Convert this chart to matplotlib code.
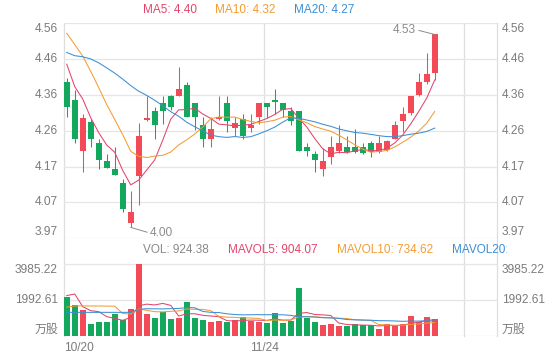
import numpy as np
import pandas as pd
import matplotlib
matplotlib.use('Agg')
import matplotlib.pyplot as plt
from matplotlib.lines import Line2D
from matplotlib.transforms import Bbox, TransformedBbox

plt.rcParams['font.family'] = ['Liberation Sans', 'Noto Sans CJK SC', 'DejaVu Sans']

# daily candles, 10/20 .. 12/23
open_ = [4.400, 4.350, 4.211, 4.289, 4.231, 4.183, 4.161, 4.123, 4.013, 4.142,
         4.296, 4.320, 4.341, 4.361, 4.361, 4.391, 4.341, 4.280, 4.242, 4.298,
         4.341, 4.272, 4.299, 4.272, 4.303, 4.341, 4.350, 4.341, 4.319, 4.320,
         4.222, 4.202, 4.161, 4.193, 4.211, 4.220, 4.222, 4.220, 4.231, 4.208,
         4.213, 4.242, 4.291, 4.314, 4.363, 4.400, 4.424]
high = [4.410, 4.378, 4.311, 4.299, 4.242, 4.202, 4.222, 4.132, 4.100, 4.288,
        4.361, 4.330, 4.361, 4.363, 4.440, 4.400, 4.341, 4.304, 4.304, 4.361,
        4.361, 4.304, 4.311, 4.311, 4.341, 4.341, 4.380, 4.343, 4.330, 4.320,
        4.233, 4.211, 4.217, 4.251, 4.282, 4.250, 4.270, 4.231, 4.238, 4.250,
        4.240, 4.291, 4.330, 4.361, 4.423, 4.478, 4.530]
low = [4.302, 4.233, 4.153, 4.222, 4.161, 4.162, 4.143, 4.043, 4.000, 4.062,
       4.291, 4.242, 4.284, 4.323, 4.361, 4.302, 4.268, 4.222, 4.222, 4.295,
       4.263, 4.251, 4.242, 4.263, 4.284, 4.300, 4.311, 4.304, 4.282, 4.211,
       4.195, 4.153, 4.142, 4.174, 4.204, 4.204, 4.204, 4.202, 4.193, 4.204,
       4.211, 4.242, 4.263, 4.309, 4.361, 4.394, 4.405]
close = [4.332, 4.242, 4.300, 4.242, 4.185, 4.162, 4.143, 4.051, 4.043, 4.251,
         4.300, 4.282, 4.321, 4.332, 4.380, 4.302, 4.302, 4.242, 4.271, 4.302,
         4.291, 4.288, 4.252, 4.282, 4.341, 4.332, 4.344, 4.323, 4.291, 4.211,
         4.211, 4.184, 4.183, 4.222, 4.231, 4.206, 4.208, 4.204, 4.206, 4.231,
         4.238, 4.281, 4.312, 4.361, 4.400, 4.422, 4.530]
volume = [2141, 1713, 1434, 652, 763, 763, 1229, 875, 1490, 3985.22,
          1229, 1005, 1303, 950, 987, 1881, 1005, 875, 745, 819,
          782, 857, 1061, 838, 775, 726, 1285, 726, 838, 2644,
          968, 745, 614, 670, 540, 559, 633, 570, 606, 364,
          680, 606, 650, 1120, 760, 1066, 924.38]

# 19 sessions before the window (only feed the moving averages, read back from the MA lines)
prior_close = [4.42, 4.36, 4.36, 4.40, 4.44, 4.43, 4.38, 4.40, 4.56, 4.53,
               4.55, 4.62, 4.66, 4.63, 4.63, 4.55, 4.47, 4.50, 4.39]
prior_volume = [1700, 1430, 660, 760, 760, 1230, 880, 1490, 600, 560,
                1100, 1400, 700, 760, 840, 1250, 4970, 1770, 1050]

ma_last = ['4.40', '4.32', '4.27']
vol_last = ['924.38', '904.07', '734.62']
price_ticks = ['3.97', '4.07', '4.17', '4.26', '4.36', '4.46', '4.56']
vol_ticks = ['万股', '1992.61', '3985.22']
date_labels = ['10/20', '11/24']
date_index = [0, 25]

RED = '#f24a57'
GREEN = '#14a85e'
C5, C10, C20 = '#e2456b', '#f39c33', '#3b8fd6'
TXT = '#7b7b7b'
GRID = '#e6e6e6'

o = np.array(open_); h = np.array(high); l = np.array(low); c = np.array(close)
v = np.array(volume)
n = len(c)
x = np.arange(n)
up = c >= o
cols = np.where(up, RED, GREEN)

allc = pd.Series(prior_close + close)
allv = pd.Series(prior_volume + volume)
ma = {k: allc.rolling(k).mean().values[-n:] for k in (5, 10, 20)}
mav = {k: allv.rolling(k).mean().values[-n:] for k in (5, 10, 20)}

W, H = 560, 360
fig = plt.figure(figsize=(5.6, 3.6), dpi=100)
L, R = 64, 497
ax = fig.add_axes([L / W, 1 - 238.3 / H, (R - L) / W, (238.3 - 23.3) / H])
axv = fig.add_axes([L / W, 1 - 335.7 / H, (R - L) / W, (335.7 - 240) / H])

xl = (-0.34, -0.34 + (R - L) / 8)
pmin = 3.97
pmax = pmin + 215 / 364
vmax = 3985.22
for a in (ax, axv):
    a.set_xlim(xl)
    a.axis('off')
ax.set_ylim(pmin, pmax)
axv.set_ylim(0, vmax * 95.7 / 71.4)

# grid + axis labels on both sides
pt = np.linspace(pmin, pmax, len(price_ticks))
for i, (val, lab) in enumerate(zip(pt, price_ticks)):
    ax.axhline(val, color=GRID, lw=0.9, zorder=0)
    va = 'bottom' if i == 0 else ('top' if i == len(pt) - 1 else 'center')
    tr = ax.get_yaxis_transform()
    ax.text(-6 / (R - L), val, lab, transform=tr, ha='right', va=va, fontsize=8.6, color=TXT)
    ax.text(1 + 5 / (R - L), val, lab, transform=tr, ha='left', va=va, fontsize=8.6, color=TXT)

vt = np.linspace(0, vmax, len(vol_ticks))
for i, (val, lab) in enumerate(zip(vt, vol_ticks)):
    axv.axhline(val, color=GRID, lw=0.9, zorder=0)
    va = 'bottom' if i == 0 else ('top' if i == len(vt) - 1 else 'center')
    tr = axv.get_yaxis_transform()
    axv.text(-6 / (R - L), val, lab, transform=tr, ha='right', va=va, fontsize=8.6, color=TXT)
    axv.text(1 + 5 / (R - L), val, lab, transform=tr, ha='left', va=va, fontsize=8.6, color=TXT)

for xp in (L, 264.3, 464, R):
    fig.add_artist(Line2D([xp / W, xp / W], [1 - 23.3 / H, 1 - 335.7 / H],
                          color='#dedede', lw=0.9, zorder=0))

# candles
ax.vlines(x, l, h, colors=cols, lw=0.75, zorder=2)
ax.bar(x, np.maximum(np.abs(c - o), 0.0025), bottom=np.minimum(o, c), width=0.75,
       color=cols, lw=0, zorder=3)
for k, col in zip((5, 10, 20), (C5, C10, C20)):
    ax.plot(x, ma[k], color=col, lw=0.75, zorder=4)

ih = int(np.argmax(h)); il = int(np.argmin(l))
ax.annotate(f'{h[ih]:.2f}', xy=(ih, h[ih]), xytext=(-13.5, 3.4), textcoords='offset points',
            ha='right', va='center', fontsize=8.6, color='#8c8c8c',
            arrowprops=dict(arrowstyle='-', color='#8c8c8c', lw=0.7, shrinkA=0, shrinkB=0,
                            relpos=(1, 0.5)))
ax.annotate(f'{l[il]:.2f}', xy=(il, l[il]), xytext=(13.9, -4.1), textcoords='offset points',
            ha='left', va='center', fontsize=8.6, color='#8c8c8c',
            arrowprops=dict(arrowstyle='-', color='#8c8c8c', lw=0.7, shrinkA=0, shrinkB=0,
                            relpos=(0, 0.5)))

# volume
axv.bar(x, v, width=0.75, color=cols, lw=0, zorder=2)
for k, col in zip((5, 10, 20), (C5, C10, C20)):
    axv.plot(x, mav[k], color=col, lw=0.75, zorder=4)

# dates
for j, (idx, lab) in enumerate(zip(date_index, date_labels)):
    xpos = idx - 0.34
    axv.text(xpos, -12.3 / 95.7, lab, transform=axv.get_xaxis_transform(),
             ha='left' if j == 0 else 'center', va='center', fontsize=8.6, color=TXT)

# legends
def ftext(xp, yp, s, col, clip=None):
    t = fig.text(xp / W, 1 - yp / H, s, ha='left', va='center', fontsize=8.5, color=col)
    if clip is not None:
        t.set_clip_on(True)
        t.set_clip_box(TransformedBbox(Bbox([[0, 0], [clip / W, 1]]), fig.transFigure))
    return t

ftext(142.7, 10, f'MA5: {ma_last[0]}', C5)
ftext(215, 10, f'MA10: {ma_last[1]}', C10)
ftext(294, 10, f'MA20: {ma_last[2]}', C20)
ftext(142.7, 250, f'VOL: {vol_last[0]}', '#888888')
ftext(227.7, 250, f'MAVOL5: {vol_last[1]}', C5)
ftext(336.7, 250, f'MAVOL10: {vol_last[2]}', C10)
ftext(452, 250, 'MAVOL20: ', C20, clip=507)

fig.savefig('out.png', dpi=100, facecolor='white')
